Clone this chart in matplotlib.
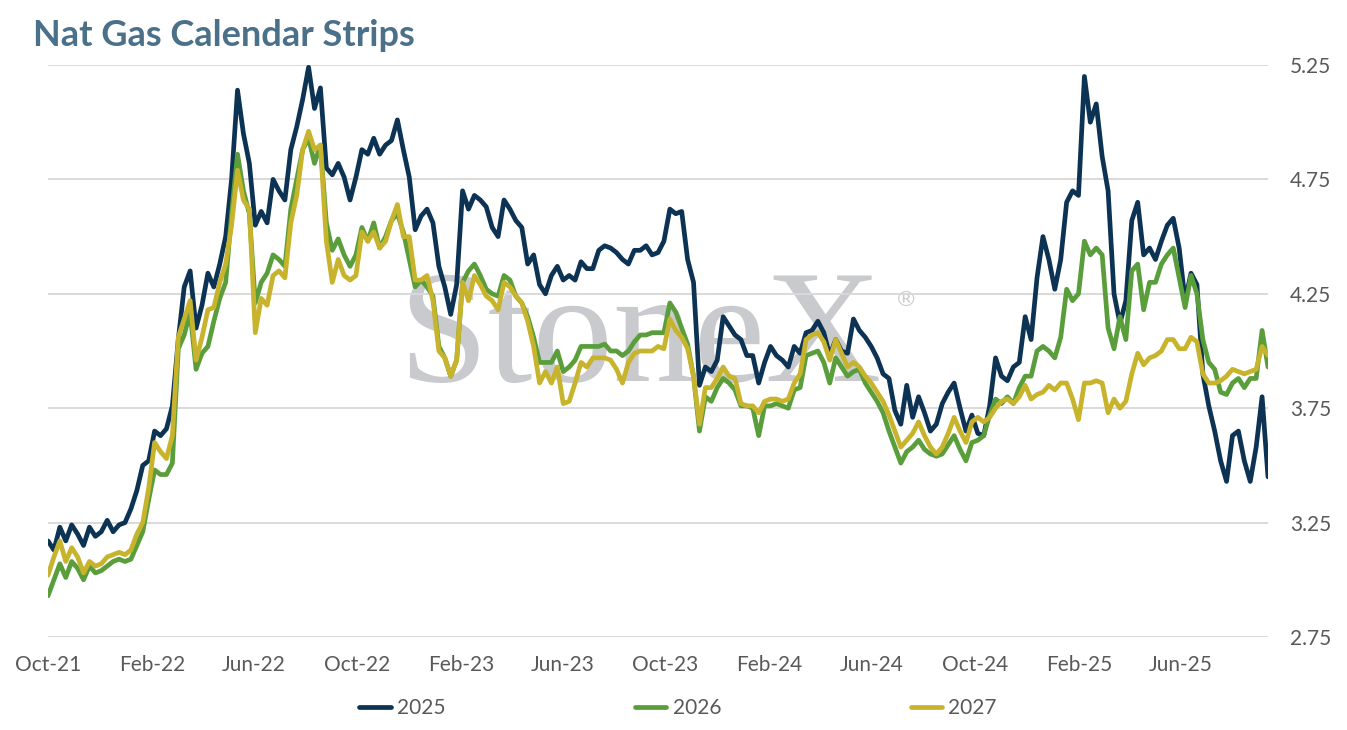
import matplotlib
matplotlib.use("Agg")
import matplotlib.pyplot as plt
import matplotlib.dates as mdates
import pandas as pd

# ---- data (weekly observations) ----
start_date = "2021-10-01"
n_weeks = 207

strip_2025 = [
    3.17, 3.13, 3.23, 3.17, 3.24, 3.20, 3.15, 3.23, 3.19, 3.21,
    3.26, 3.21, 3.24, 3.25, 3.31, 3.39, 3.50, 3.52, 3.65, 3.63,
    3.66, 3.76, 4.05, 4.28, 4.35, 4.10, 4.20, 4.34, 4.28, 4.38,
    4.50, 4.75, 5.14, 4.95, 4.82, 4.55, 4.61, 4.56, 4.75, 4.70,
    4.66, 4.88, 4.98, 5.10, 5.24, 5.06, 5.15, 4.80, 4.77, 4.82,
    4.76, 4.66, 4.76, 4.88, 4.86, 4.93, 4.86, 4.90, 4.92, 5.01,
    4.88, 4.76, 4.53, 4.59, 4.62, 4.56, 4.37, 4.28, 4.16, 4.29,
    4.70, 4.62, 4.68, 4.66, 4.63, 4.54, 4.50, 4.66, 4.62, 4.57,
    4.54, 4.38, 4.42, 4.29, 4.25, 4.33, 4.37, 4.31, 4.33, 4.31,
    4.39, 4.36, 4.36, 4.44, 4.46, 4.45, 4.43, 4.40, 4.38, 4.44,
    4.44, 4.46, 4.42, 4.43, 4.48, 4.62, 4.60, 4.61, 4.40, 4.30,
    3.85, 3.93, 3.91, 3.96, 4.15, 4.11, 4.07, 4.05, 3.98, 3.98,
    3.86, 3.95, 4.02, 3.98, 3.96, 3.93, 4.02, 3.99, 4.08, 4.09,
    4.13, 4.08, 3.98, 4.05, 4.00, 3.99, 4.14, 4.09, 4.06, 4.02,
    3.97, 3.90, 3.88, 3.74, 3.68, 3.85, 3.71, 3.80, 3.73, 3.65,
    3.68, 3.77, 3.82, 3.86, 3.75, 3.65, 3.72, 3.64, 3.63, 3.76,
    3.97, 3.89, 3.87, 3.93, 3.95, 4.15, 4.05, 4.32, 4.50, 4.40,
    4.27, 4.40, 4.65, 4.70, 4.68, 5.20, 5.00, 5.08, 4.85, 4.70,
    4.25, 4.12, 4.22, 4.57, 4.65, 4.42, 4.45, 4.40, 4.48, 4.55,
    4.58, 4.45, 4.22, 4.34, 4.29, 3.90, 3.76, 3.65, 3.52, 3.43,
    3.63, 3.65, 3.52, 3.43, 3.58, 3.80, 3.45,
]

strip_2026 = [
    2.93, 3.00, 3.07, 3.01, 3.08, 3.05, 3.00, 3.06, 3.03, 3.04,
    3.06, 3.08, 3.09, 3.08, 3.09, 3.15, 3.21, 3.35, 3.48, 3.46,
    3.46, 3.51, 4.01, 4.07, 4.17, 3.92, 3.99, 4.02, 4.13, 4.23,
    4.30, 4.60, 4.86, 4.70, 4.60, 4.21, 4.30, 4.34, 4.42, 4.40,
    4.37, 4.62, 4.75, 4.88, 4.93, 4.82, 4.90, 4.56, 4.44, 4.49,
    4.42, 4.37, 4.42, 4.54, 4.48, 4.56, 4.45, 4.50, 4.57, 4.60,
    4.52, 4.40, 4.28, 4.31, 4.28, 4.24, 4.02, 3.97, 3.89, 3.96,
    4.30, 4.35, 4.38, 4.33, 4.27, 4.25, 4.24, 4.33, 4.31, 4.24,
    4.21, 4.15, 4.06, 3.95, 3.95, 3.95, 4.00, 3.91, 3.93, 3.96,
    4.02, 4.02, 4.02, 4.02, 4.03, 4.00, 4.00, 3.98, 4.00, 4.04,
    4.07, 4.07, 4.08, 4.08, 4.08, 4.21, 4.17, 4.10, 4.03, 3.89,
    3.65, 3.80, 3.78, 3.84, 3.88, 3.86, 3.83, 3.76, 3.76, 3.75,
    3.63, 3.76, 3.76, 3.77, 3.76, 3.75, 3.83, 3.84, 3.98, 3.99,
    4.00, 3.95, 3.86, 3.97, 3.93, 3.89, 3.91, 3.92, 3.86, 3.82,
    3.78, 3.73, 3.65, 3.58, 3.51, 3.56, 3.58, 3.61, 3.57, 3.55,
    3.54, 3.55, 3.59, 3.63, 3.57, 3.52, 3.60, 3.61, 3.63, 3.72,
    3.79, 3.77, 3.80, 3.77, 3.84, 3.89, 3.89, 4.00, 4.02, 4.00,
    3.97, 4.06, 4.27, 4.22, 4.25, 4.48, 4.42, 4.45, 4.42, 4.10,
    4.01, 4.15, 4.05, 4.35, 4.38, 4.18, 4.30, 4.30, 4.38, 4.42,
    4.45, 4.32, 4.19, 4.33, 4.25, 4.05, 3.95, 3.92, 3.82, 3.81,
    3.86, 3.88, 3.84, 3.88, 3.88, 4.09, 3.93,
]

strip_2027 = [
    3.02, 3.10, 3.17, 3.08, 3.14, 3.10, 3.03, 3.08, 3.06, 3.07,
    3.10, 3.11, 3.12, 3.11, 3.13, 3.20, 3.25, 3.40, 3.60, 3.56,
    3.53, 3.63, 4.06, 4.14, 4.22, 3.96, 4.06, 4.18, 4.19, 4.30,
    4.38, 4.55, 4.79, 4.66, 4.62, 4.08, 4.23, 4.20, 4.33, 4.35,
    4.32, 4.56, 4.68, 4.88, 4.96, 4.88, 4.90, 4.48, 4.30, 4.40,
    4.33, 4.31, 4.33, 4.52, 4.48, 4.52, 4.45, 4.48, 4.57, 4.64,
    4.50, 4.50, 4.31, 4.31, 4.33, 4.22, 4.00, 3.97, 3.89, 3.96,
    4.30, 4.22, 4.33, 4.29, 4.24, 4.22, 4.18, 4.30, 4.28, 4.24,
    4.21, 4.13, 4.02, 3.86, 3.91, 3.86, 3.93, 3.77, 3.78, 3.86,
    3.95, 3.93, 3.97, 3.97, 3.97, 3.96, 3.92, 3.86, 3.95, 3.99,
    4.00, 4.00, 4.00, 4.02, 4.01, 4.14, 4.09, 4.06, 4.01, 3.89,
    3.68, 3.84, 3.84, 3.88, 3.93, 3.89, 3.88, 3.77, 3.76, 3.76,
    3.73, 3.78, 3.79, 3.79, 3.78, 3.79, 3.86, 3.90, 4.05, 4.07,
    4.08, 4.04, 3.96, 4.05, 3.99, 3.93, 3.95, 3.93, 3.89, 3.86,
    3.82, 3.78, 3.72, 3.65, 3.58, 3.61, 3.64, 3.69, 3.63, 3.58,
    3.55, 3.58, 3.64, 3.71, 3.65, 3.60, 3.69, 3.71, 3.69, 3.71,
    3.75, 3.78, 3.79, 3.77, 3.80, 3.85, 3.79, 3.81, 3.82, 3.85,
    3.83, 3.86, 3.86, 3.79, 3.70, 3.86, 3.86, 3.87, 3.86, 3.73,
    3.79, 3.75, 3.78, 3.90, 3.99, 3.94, 3.97, 3.98, 4.00, 4.05,
    4.05, 4.01, 4.01, 4.06, 4.04, 3.90, 3.86, 3.86, 3.87, 3.89,
    3.92, 3.91, 3.90, 3.91, 3.92, 4.02, 3.98,
]

series_labels = ["2025", "2026", "2027"]
y_ticks = [2.75, 3.25, 3.75, 4.25, 4.75, 5.25]
x_tick_dates = ["2021-10-01", "2022-02-01", "2022-06-01", "2022-10-01",
                "2023-02-01", "2023-06-01", "2023-10-01", "2024-02-01",
                "2024-06-01", "2024-10-01", "2025-02-01", "2025-06-01"]

# ---- styling ----
colors = ["#0c3354", "#5a9e3c", "#c8b32d"]
title_color = "#4b7089"
text_color = "#595959"
grid_color = "#d9d9d9"

dates = pd.date_range(start_date, periods=n_weeks, freq="7D")

W, H = 1347, 730
fig = plt.figure(figsize=(W / 100, H / 100), dpi=100)
ax = fig.add_axes([48 / W, (H - 637) / H, 1220 / W, 572 / H])

ax.text(0.485, 0.515, "StoneX", transform=ax.transAxes, ha="center", va="center",
        fontsize=116, family="Liberation Serif", color="#c9cacd", zorder=0)
ax.text(0.703, 0.59, "®", transform=ax.transAxes, ha="center", va="center",
        fontsize=16, color="#c9cacd", zorder=0)

for vals, c, lab in zip([strip_2025, strip_2026, strip_2027], colors, series_labels):
    ax.plot(dates, vals, color=c, lw=3.4, label=lab, zorder=3,
            solid_joinstyle="round", solid_capstyle="round")

ax.set_ylim(2.75, 5.25)
ax.set_xlim(dates[0], dates[-1])
ax.set_yticks(y_ticks)
ax.set_yticklabels([f"{v:.2f}" for v in y_ticks])
ax.yaxis.tick_right()
ax.set_xticks(pd.to_datetime(x_tick_dates))
ax.xaxis.set_major_formatter(mdates.DateFormatter("%b-%y"))
ax.grid(axis="y", color=grid_color, lw=1.4, zorder=1)
ax.grid(axis="x", visible=False)
for s in ax.spines.values():
    s.set_visible(False)
ax.tick_params(axis="both", length=0, colors=text_color, labelsize=15)
ax.tick_params(axis="x", pad=13)
ax.tick_params(axis="y", pad=16)
for lbl in ax.get_xticklabels() + ax.get_yticklabels():
    lbl.set_family("Lato")

fig.text(33 / W, 1 - 36 / H, "Nat Gas Calendar Strips", ha="left", va="center",
         fontsize=26, fontweight="bold", color=title_color, family="Lato")

leg = fig.legend(loc="center", bbox_to_anchor=(678 / W, 1 - 708 / H), ncol=3,
                 frameon=False, handlelength=1.5, handletextpad=0.3,
                 columnspacing=9.1, prop={"family": "Lato", "size": 15})
for t in leg.get_texts():
    t.set_color(text_color)

fig.savefig("out.png", dpi=100)
